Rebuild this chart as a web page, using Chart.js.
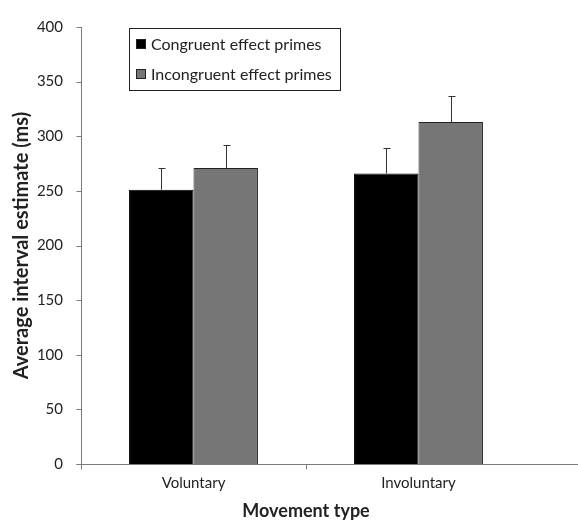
<!DOCTYPE html>
<html>
<head>
<meta charset="utf-8">
<script src="https://cdn.jsdelivr.net/npm/chart.js@4/dist/chart.umd.min.js"></script>
<style>
  html, body { margin: 0; padding: 0; background: #fff; }
  #wrap { width: 578px; height: 522px; }
</style>
</head>
<body>
<div id="wrap"><canvas id="chart"></canvas></div>
<script>
// Data
const categories = ['Voluntary', 'Involuntary'];
const seriesNames = ['Congruent effect primes', 'Incongruent effect primes'];
const congruent = [251, 266];
const incongruent = [271, 313];
const congruentErr = [20, 23];
const incongruentErr = [21, 24];
const yTicks = [0, 50, 100, 150, 200, 250, 300, 350, 400];

const FONT = 'Lato, "Open Sans", sans-serif';
const AXIS = '#7a7a7a';
const TEXT = '#222';
const colors = ['#000000', '#767676'];

// error bars, upward only, with cap
const errorBars = {
    id: 'errorBars',
    afterDatasetsDraw(chart) {
        const ctx = chart.ctx;
        const y = chart.scales.y;
        const errs = [congruentErr, incongruentErr];
        ctx.save();
        ctx.strokeStyle = '#333';
        ctx.lineWidth = 1;
        chart.data.datasets.forEach((ds, i) => {
            chart.getDatasetMeta(i).data.forEach((bar, j) => {
                const x = Math.round(bar.x) + 0.5;
                const y0 = y.getPixelForValue(ds.data[j]);
                const y1 = Math.round(y.getPixelForValue(ds.data[j] + errs[i][j])) + 0.5;
                ctx.beginPath();
                ctx.moveTo(x, y0);
                ctx.lineTo(x, y1);
                ctx.moveTo(x - 3, y1);
                ctx.lineTo(x + 4, y1);
                ctx.stroke();
            });
        });
        ctx.restore();
    }
};

// axis lines, ticks, legend box
const decorations = {
    id: 'decorations',
    afterDraw(chart) {
        const ctx = chart.ctx;
        const a = chart.chartArea;
        const x = chart.scales.x;
        ctx.save();
        ctx.strokeStyle = AXIS;
        ctx.lineWidth = 1;
        const bottom = Math.round(a.bottom) + 0.5;
        const left = Math.round(a.left) + 0.5;
        ctx.beginPath();
        // x axis line to the right edge
        ctx.moveTo(left - 5, bottom);
        ctx.lineTo(chart.width, bottom);
        // y axis line
        ctx.moveTo(left, a.top);
        ctx.lineTo(left, bottom + 5);
        // y ticks
        yTicks.forEach(v => {
            const py = Math.round(chart.scales.y.getPixelForValue(v)) + 0.5;
            ctx.moveTo(left - 5, py);
            ctx.lineTo(left, py);
        });
        // category boundary tick
        const mid = Math.round((x.getPixelForValue(0) + x.getPixelForValue(1)) / 2) + 0.5;
        ctx.moveTo(mid, bottom);
        ctx.lineTo(mid, bottom + 5);
        ctx.stroke();

        // legend
        ctx.strokeStyle = '#222';
        ctx.fillStyle = '#fff';
        ctx.fillRect(129.5, 28.5, 211, 62);
        ctx.strokeRect(129.5, 28.5, 211, 62);
        ctx.font = '16px ' + FONT;
        ctx.textBaseline = 'middle';
        seriesNames.forEach((name, i) => {
            const cy = 44 + i * 30;
            ctx.fillStyle = colors[i];
            ctx.fillRect(136, cy - 5, 10, 10);
            ctx.strokeStyle = '#222';
            ctx.strokeRect(136.5, cy - 4.5, 9, 9);
            ctx.fillStyle = TEXT;
            ctx.fillText(name, 151, cy + 1);
        });
        ctx.restore();
    }
};

new Chart(document.getElementById('chart'), {
    type: 'bar',
    data: {
        labels: categories,
        datasets: [
            { label: seriesNames[0], data: congruent, backgroundColor: colors[0], borderColor: '#000', borderWidth: 1 },
            { label: seriesNames[1], data: incongruent, backgroundColor: colors[1], borderColor: '#222', borderWidth: 1 }
        ]
    },
    options: {
        responsive: true,
        maintainAspectRatio: false,
        animation: false,
        layout: { padding: { left: 0, right: 47, top: 17, bottom: 0 } },
        datasets: { bar: { categoryPercentage: 0.573, barPercentage: 1 } },
        plugins: { legend: { display: false }, tooltip: { enabled: false } },
        scales: {
            x: {
                grid: { display: false, drawTicks: false },
                border: { display: false },
                ticks: { color: TEXT, font: { family: FONT, size: 15 }, padding: 10 },
                title: { display: true, text: 'Movement type', color: TEXT, font: { family: FONT, size: 18, weight: 'bold' }, padding: { top: 3, bottom: 0 } },
                afterFit: s => { s.height = 58; }
            },
            y: {
                min: 0, max: 400,
                afterBuildTicks: s => { s.ticks = yTicks.map(v => ({ value: v })); },
                grid: { display: false, drawTicks: false },
                border: { display: false },
                ticks: { color: TEXT, font: { family: FONT, size: 15 }, padding: 18 },
                title: { display: true, text: 'Average interval estimate (ms)', color: TEXT, font: { family: FONT, size: 20, weight: 'bold' }, padding: { top: 10, bottom: 0 } },
                afterFit: s => { s.width = 81; }
            }
        }
    },
    plugins: [errorBars, decorations]
});
</script>
</body>
</html>
